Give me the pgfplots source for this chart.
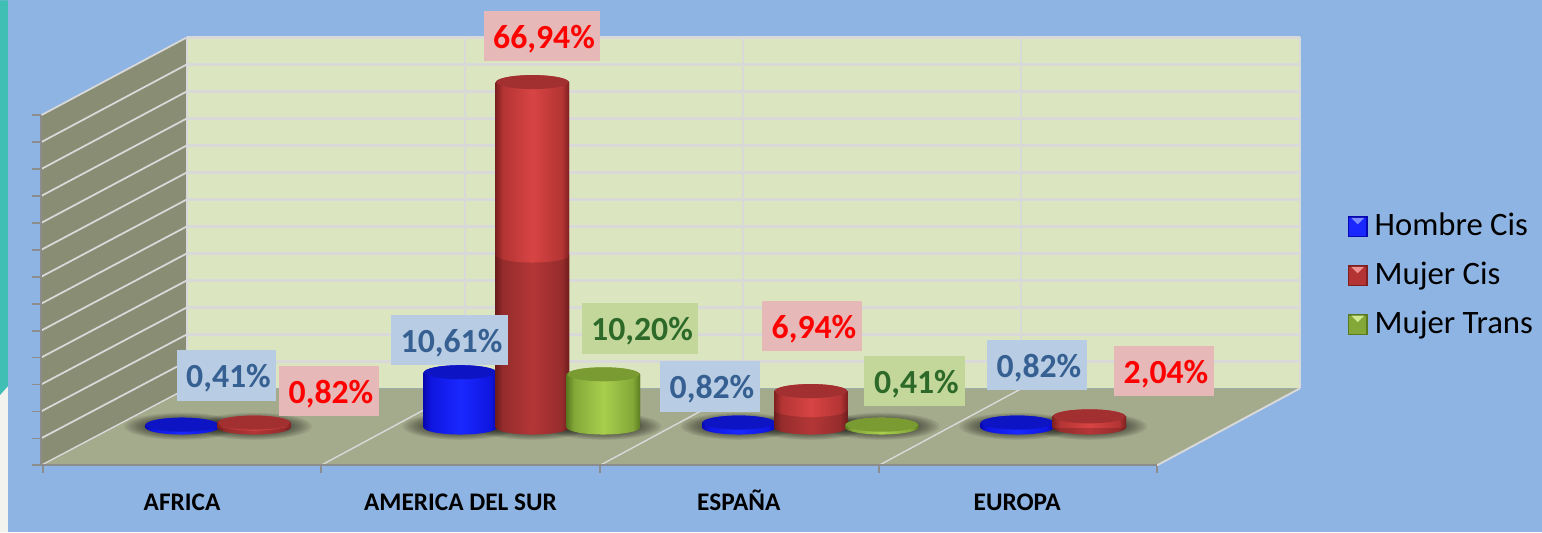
\documentclass[border=0pt]{standalone}
\usepackage{fontspec}
\setmainfont{Carlito}
\usepackage{pgfplots}
\usepackage{pgfplotstable}
\pgfplotsset{compat=1.18}
\usetikzlibrary{plotmarks}

\definecolor{bgblue}{HTML}{8EB4E3}
\definecolor{teal1}{HTML}{40C0B4}
\definecolor{paper}{HTML}{F2F2EE}
\definecolor{backwall}{HTML}{DBE5BF}
\definecolor{sidewall}{HTML}{898D74}
\definecolor{floorc}{HTML}{A4AA8C}
\definecolor{gridc}{HTML}{D9D9D9}
\definecolor{axisc}{HTML}{8C8C8C}
\definecolor{lblue}{HTML}{B8CCE4}
\definecolor{lred}{HTML}{E6B8B7}
\definecolor{lgreen}{HTML}{C4D79B}
\definecolor{tblue}{HTML}{366092}
\definecolor{tgreen}{HTML}{2D6A2A}
\definecolor{bedge}{HTML}{0808B0}
\definecolor{bflank}{HTML}{0F16E0}
\definecolor{bmid}{HTML}{1A28FF}
\definecolor{bcap}{HTML}{0D14C4}
\definecolor{blite}{HTML}{7A8CFF}
\definecolor{redge}{HTML}{7E2020}
\definecolor{rflank}{HTML}{B43434}
\definecolor{rmid}{HTML}{D84444}
\definecolor{rcap}{HTML}{A23030}
\definecolor{rlite}{HTML}{F09090}
\definecolor{rdedge}{HTML}{6E1C1C}
\definecolor{rdflank}{HTML}{962C2C}
\definecolor{rdmid}{HTML}{B43636}
\definecolor{gedge}{HTML}{5B7A1F}
\definecolor{gflank}{HTML}{84A838}
\definecolor{gmid}{HTML}{A9CF4E}
\definecolor{gcap}{HTML}{7A9A32}
\definecolor{glite}{HTML}{D0E890}

% values in percent, categories at 0,1,2,3
\pgfplotstableread{
cat value
0 0.41
1 10.61
2 0.82
3 0.82
}\hombre
\pgfplotstableread{
cat value
0 0.82
1 66.94
2 6.94
3 2.04
}\mujer
\pgfplotstableread{
cat value
1 10.20
2 0.41
}\trans
% darker lower half of the red cylinders
\pgfplotstableread{
cat value
1 33.4
2 3.4
}\band

% inside a mark, (x,y) would be axis cs, so everything goes through \pt
\newcommand\pt[2]{(canvas cs:x=#1,y=#2)}
\newcommand\cylmarks[5]{%
  \pgfdeclarehorizontalshading{sh-#1}{100bp}{color(0bp)=(#2);color(25bp)=(#2);color(30bp)=(#3);
    color(50bp)=(#4);color(70bp)=(#3);color(75bp)=(#2);color(100bp)=(#2)}
  \pgfdeclareplotmark{base-#1}{\path[draw=none,shade,shading=sh-#1] \pt{0pt}{0pt} ellipse (3.68mm and 0.72mm);}
  \pgfdeclareplotmark{body-#1}{\path[draw=none,shade,shading=sh-#1]
    \pt{-3.68mm}{0pt} rectangle \pt{3.68mm}{-\barh*0.515mm};}
  \pgfdeclareplotmark{cap-#1}{\path[draw=none,shade,shading=sh-#1] \pt{0pt}{0pt} ellipse (3.68mm and 0.75mm);
    \fill[draw=none,#5] \pt{0pt}{0.05mm} ellipse (3.6mm and 0.7mm);}
}
\cylmarks{b}{bedge}{bflank}{bmid}{bcap}
\cylmarks{r}{redge}{rflank}{rmid}{rcap}
\cylmarks{g}{gedge}{gflank}{gmid}{gcap}
\cylmarks{rd}{rdedge}{rdflank}{rdmid}{rcap}
% soft shadow: nested see-through ellipses
\pgfdeclareplotmark{shadow}{%
  \foreach \k in {0,...,7}{
    \fill[draw=none,black,fill opacity=0.065] \pt{0pt}{0.1mm} ellipse ({5.8mm-\k*0.28mm} and {1.35mm-\k*0.08mm});
  }}

\pgfplotsset{
  frame/.style={at={(0,0)},anchor=south west,scale only axis,width=154.2mm,height=53.2mm},
  pix/.style={frame,hide axis,xmin=0,xmax=1542,ymin=0,ymax=532,y dir=reverse},
  cyl/.style n args={3}{ybar,bar width=7.36mm,bar shift=0pt,draw=none,fill=#1,
    legend image code/.code={
      \fill[#1] (0mm,-1.05mm) rectangle (2mm,1.05mm);
      \fill[#2] (0.15mm,-0.9mm) rectangle (1.85mm,0.9mm);
      \fill[#3] (0.35mm,0.9mm) -- (1.65mm,0.9mm) -- (1mm,0.25mm) -- cycle;}},
  dots/.style={only marks,mark=#1,forget plot},
  body/.style={only marks,mark=body-#1,forget plot,visualization depends on=rawy\as\barh},
}
\newcommand\lab[6]{\node[fill=#4,text=#5,font=\fontsize{9.6}{11}\selectfont\bfseries,
  minimum width=#3mm,text height=3.78mm,text depth=1.27mm,inner xsep=0pt,inner ysep=0pt] at (axis cs:#1,#2) {\hspace*{0.4mm}#6};}

\begin{document}
\begin{tikzpicture}
% page, walls and floor, in picture pixels
\begin{axis}[pix]
  \fill[bgblue] (axis cs:0,0) rectangle (axis cs:1542,532);
  \fill[teal1] (axis cs:0,0) -- (axis cs:8,0) -- (axis cs:8,386) -- (axis cs:0,395) -- cycle;
  \fill[paper] (axis cs:0,395) -- (axis cs:8,386) -- (axis cs:8,532) -- (axis cs:0,532) -- cycle;
  \fill[backwall] (axis cs:187,37) rectangle (axis cs:1300,388);
  \fill[sidewall] (axis cs:41,115) -- (axis cs:187,37) -- (axis cs:187,388) -- (axis cs:41,465) -- cycle;
  \fill[floorc] (axis cs:41,465) -- (axis cs:187,388) -- (axis cs:1300,388) -- (axis cs:1157,465) -- cycle;
  \pgfplotsinvokeforeach{0,...,12}{
    \draw[gridc,line width=0.7pt] (axis cs:187,{37+27*#1}) -- (axis cs:1300,{37+27*#1});
    \draw[gridc,line width=0.5pt] (axis cs:41,{115+26.92*#1}) -- (axis cs:187,{37+27*#1});
  }
  \draw[gridc,line width=0.4pt] (axis cs:41,465) -- (axis cs:187,388);
  \pgfplotsinvokeforeach{187,465,743,1021,1300}{
    \draw[gridc,line width=0.7pt] (axis cs:#1,37) -- (axis cs:#1,388);
  }
  \pgfplotsinvokeforeach{321,600,879,1157}{
    \draw[gridc,line width=0.4pt] (axis cs:#1,465) -- (axis cs:{#1+143},388);
    \draw[axisc,line width=0.5pt] (axis cs:#1,465) -- (axis cs:#1,473);
  }
  \draw[axisc,line width=0.5pt] (axis cs:43,465) -- (axis cs:43,473);
  \draw[gridc,line width=0.5pt] (axis cs:1157,465) -- (axis cs:1300,388);
  \draw[axisc,line width=0.6pt] (axis cs:41,115) -- (axis cs:41,465) -- (axis cs:1157,465);
  \pgfplotsinvokeforeach{0,...,13}{
    \draw[axisc,line width=0.5pt] (axis cs:32,{115+26.92*#1}) -- (axis cs:41,{115+26.92*#1});
  }
\end{axis}
% the data: y=0 at picture row 427, 5.15 px per percent; groups 278.4 px apart
\begin{axis}[frame,
  xmin=-0.9124,xmax=4.6264,ymin=-20.39,ymax=82.91,
  axis line style={draw=none},major tick length=0pt,
  ytick=\empty,
  xtick={-0.2586,0.7414,1.7414,2.7414},
  xticklabels={AFRICA,AMERICA DEL SUR,ESPAÑA,EUROPA},
  xticklabel style={anchor=base,yshift=2.15mm,font=\fontsize{7.2}{8}\selectfont\bfseries},
  clip=false,
  legend style={at={(0.8735,0.615)},anchor=north west,draw=none,fill=none,
    font=\fontsize{9.3}{11}\selectfont,row sep=0.7mm,inner sep=0pt,
    /tikz/every even column/.append style={column sep=1.6mm}},
  legend cell align=left,
]
  % shadows on the floor
  \addplot[dots=shadow] table[x expr=\thisrow{cat}-0.2586,y expr=0]{\hombre};
  \addplot[dots=shadow] table[x=cat,y expr=0]{\mujer};
  \addplot[dots=shadow] table[x expr=\thisrow{cat}+0.2550,y expr=0]{\trans};
  % Hombre Cis
  \addplot[dots=base-b] table[x expr=\thisrow{cat}-0.2586,y expr=0]{\hombre};
  \addplot[cyl={bedge}{bmid}{blite}] table[x expr=\thisrow{cat}-0.2586,y=value]{\hombre};
  \addlegendentry{Hombre Cis}
  \addplot[body=b] table[x expr=\thisrow{cat}-0.2586,y=value]{\hombre};
  \addplot[dots=cap-b] table[x expr=\thisrow{cat}-0.2586,y=value]{\hombre};
  % Mujer Cis
  \addplot[dots=base-rd] table[x=cat,y expr=0]{\mujer};
  \addplot[cyl={redge}{rflank}{rlite}] table[x=cat,y=value]{\mujer};
  \addlegendentry{Mujer Cis}
  \addplot[body=r] table[x=cat,y=value]{\mujer};
  \addplot[body=rd] table[x=cat,y=value]{\band};
  \addplot[dots=base-r] table[x=cat,y=value]{\band};
  \addplot[dots=cap-r] table[x=cat,y=value]{\mujer};
  % Mujer Trans
  \addplot[dots=base-g] table[x expr=\thisrow{cat}+0.2550,y expr=0]{\trans};
  \addplot[cyl={gedge}{gflank}{glite}] table[x expr=\thisrow{cat}+0.2550,y=value]{\trans};
  \addlegendentry{Mujer Trans}
  \addplot[body=g] table[x expr=\thisrow{cat}+0.2550,y=value]{\trans};
  \addplot[dots=cap-g] table[x expr=\thisrow{cat}+0.2550,y=value]{\trans};
\end{axis}
% value boxes, in picture pixels
\begin{axis}[pix]
  \lab{226.5}{375}{9.9}{lblue}{tblue}{0,41\%}
  \lab{329}{390.5}{10}{lred}{red}{0,82\%}
  \lab{449.5}{339.5}{11.7}{lblue}{tblue}{10,61\%}
  \lab{542}{35.5}{11.6}{lred}{red}{66,94\%}
  \lab{640}{328}{11.6}{lgreen}{tgreen}{10,20\%}
  \lab{710}{386}{10}{lblue}{tblue}{0,82\%}
  \lab{812}{325.5}{10}{lred}{red}{6,94\%}
  \lab{914.5}{380.5}{10.1}{lgreen}{tgreen}{0,41\%}
  \lab{1037}{364.5}{10}{lblue}{tblue}{0,82\%}
  \lab{1164}{370.5}{10}{lred}{red}{2,04\%}
\end{axis}
\end{tikzpicture}
\end{document}
